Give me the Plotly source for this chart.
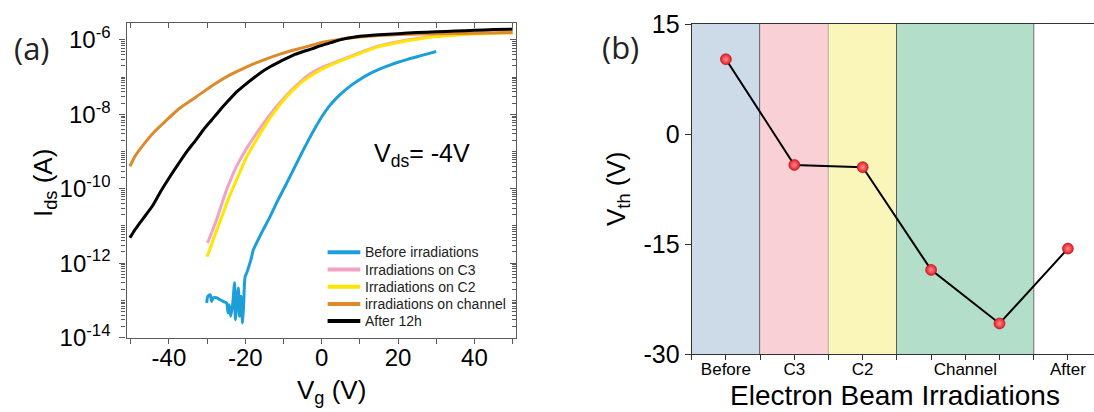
import numpy as np
import plotly.graph_objects as go

W, H = 1094, 412
FONT = "Liberation Sans, Arial, sans-serif"
LABEL_FONT = "Open Sans, Noto Sans, sans-serif"

# ---------------- Panel (a): transfer curves, Vds = -4 V ----------------
# Gate voltage (V) and log10 of drain current (A) for each measurement
vg_before = [-30.1, -29.8, -29.2, -28.8, -28.4, -27.5, -26.7, -25.8, -24.9, -24.5,
             -24.2, -23.8, -23.3, -22.8, -22.6, -22.2, -21.8, -21.5, -21.1, -20.7,
             -20.4, -20.2, -20.0, -19.6, -19.1, -18.5, -17.9, -17.0, -15.3, -13.5,
             -11.8, -9.5, -7.4, -5.5, -4.0, -2.0, 0.0, 2.0, 4.0, 6.0,
             8.0, 10.0, 12.5, 15.0, 17.5, 20.0, 22.5, 25.0, 27.5, 30.0]
log_ids_before = [-13.07, -12.89, -12.85, -13.03, -12.93, -12.93, -12.98, -13.03, -13.07, -13.34,
                  -13.12, -13.43, -13.10, -12.53, -13.52, -13.07, -12.67, -13.43, -12.89, -13.61,
                  -13.07, -12.53, -12.35, -12.26, -12.10, -11.90, -11.65, -11.45, -11.10, -10.75,
                  -10.38, -9.92, -9.49, -9.10, -8.80, -8.42, -8.07, -7.78, -7.55, -7.36,
                  -7.20, -7.06, -6.91, -6.79, -6.69, -6.60, -6.52, -6.45, -6.38, -6.31]

vg_c3 = [-29.9, -28.7, -27.5, -26.2, -24.9, -23.6, -22.3, -20.1, -17.9, -15.7,
         -13.5, -11.3, -9.1, -7.0, -4.8, -2.6, 0.0, 2.5, 5.0, 10.0, 15.0,
         20.0, 25.0, 30.0, 35.0, 40.0, 45.0, 50.0]
log_ids_c3 = [-11.46, -11.15, -10.83, -10.42, -10.03, -9.70, -9.40, -8.99, -8.64, -8.31,
              -8.01, -7.73, -7.48, -7.26, -7.05, -6.88, -6.74, -6.64, -6.54, -6.34, -6.16,
              -6.05, -5.96, -5.89, -5.85, -5.82, -5.81, -5.80]

vg_c2 = [-30.0, -29.0, -27.5, -26.0, -24.5, -23.0, -21.5, -20.0, -18.0, -15.7,
         -13.5, -11.3, -9.1, -7.0, -5.0, -2.5, 0.0, 2.5, 5.0, 7.5, 10.0, 15.0,
         20.0, 25.0, 30.0, 35.0, 40.0, 45.0, 50.0]
log_ids_c2 = [-11.83, -11.55, -11.12, -10.72, -10.30, -9.93, -9.58, -9.22, -8.85, -8.45,
              -8.10, -7.79, -7.52, -7.30, -7.12, -6.94, -6.79, -6.67, -6.56, -6.46, -6.36, -6.18,
              -6.07, -5.98, -5.91, -5.87, -5.84, -5.82, -5.81]

vg_channel = [-50.2, -48.9, -46.7, -44.1, -41.5, -37.1, -32.7, -28.4, -24.0, -19.6,
              -15.3, -10.9, -6.5, -2.1, 0.0, 5.0, 10.0, 15.0, 20.0, 30.0,
              40.0, 50.0]
log_ids_channel = [-9.40, -9.13, -8.82, -8.50, -8.24, -7.83, -7.52, -7.21, -6.94, -6.72,
                   -6.54, -6.38, -6.25, -6.13, -6.07, -5.98, -5.92, -5.88, -5.85, -5.83,
                   -5.82, -5.80]

vg_after = [-50.2, -49.0, -47.6, -46.0, -44.1, -42.0, -39.7, -37.5, -35.3, -33.0,
            -31.0, -28.8, -26.6, -24.4, -22.2, -20.0, -17.9, -15.7, -13.5, -11.3,
            -9.1, -7.0, -4.8, -2.6, -0.4, 2.5, 5.0, 7.5, 10.0, 15.0,
            20.0, 25.0, 30.0, 35.0, 40.0, 45.0, 50.0]
log_ids_after = [-11.32, -11.12, -10.92, -10.70, -10.43, -10.05, -9.67, -9.33, -9.00, -8.70,
                 -8.42, -8.15, -7.88, -7.63, -7.39, -7.20, -7.03, -6.86, -6.72, -6.60,
                 -6.49, -6.39, -6.31, -6.24, -6.16, -6.07, -5.99, -5.94, -5.90, -5.86,
                 -5.83, -5.80, -5.78, -5.76, -5.74, -5.72, -5.71]

curve_names = ["Before irradiations", "Irradiations on C3", "Irradiations on C2",
               "irradiations on channel", "After 12h"]
curve_colors = ["#1c9fd9", "#f3a2c3", "#ffe500", "#dd8a2b", "#000000"]

# ---------------- Panel (b): threshold voltage per stage ----------------
stage_names = ["Before", "C3", "C2", "Channel", "After"]
stage_counts = [1, 1, 1, 2, 1]          # number of measurements in each stage
vth = [10.2, -4.2, -4.5, -18.5, -25.8, -15.6]
stage_fill = ["#cddbe9", "#f8d0d6", "#faf6b9", "#b3dec9", None]
stage_edge = ["#1a1a1a", "#8a8a8a", "#1a1a1a", "#8a8a8a", None]

# Axis tick labels
vg_ticks = [-40, -20, 0, 20, 40]
labelled_decades = [-14, -12, -10, -8, -6]
vth_ticks = [-30, -15, 0, 15]

# ---------------- geometry ----------------
ax_a = dict(x0=126.5, x1=516.0, y0=22.5, y1=337.5)
ax_b = dict(x0=691.7, x1=W, y0=24.0, y1=354.3)
xr_a = [-51.1, 50.9]
yr_a = [-14.0, -5.53]
xr_b = [0.5, 0.5 + (ax_b["x1"] - ax_b["x0"]) / 68.4]
yr_b = [-30, 15]


def dom_x(a):
    return [a["x0"] / W, a["x1"] / W]


def dom_y(a):
    return [1 - a["y1"] / H, 1 - a["y0"] / H]


def px(x):
    return x / W


def py(y):
    return 1 - y / H


fig = go.Figure()

all_vg = [vg_before, vg_c3, vg_c2, vg_channel, vg_after]
all_log = [log_ids_before, log_ids_c3, log_ids_c2, log_ids_channel, log_ids_after]
for name, vg, lg, col in zip(curve_names, all_vg, all_log, curve_colors):
    fig.add_trace(go.Scatter(
        x=vg, y=np.power(10.0, lg), mode="lines", name=name, showlegend=False,
        line=dict(color=col, width=3, shape="spline", smoothing=0.6),
        xaxis="x", yaxis="y", hoverinfo="x+y+name"))

# transparent copy bound to the inside-tick frame axes (top / right)
fig.add_trace(go.Scatter(
    x=vg_after, y=np.power(10.0, log_ids_after), mode="lines",
    line=dict(color="rgba(0,0,0,0)", width=0), opacity=0,
    showlegend=False, hoverinfo="skip", xaxis="x3", yaxis="y3"))

# Panel (b) positions: one slot per measurement, grouped by stage
positions = list(range(1, len(vth) + 1))
fig.add_trace(go.Scatter(
    x=positions, y=vth, mode="lines+markers", showlegend=False,
    line=dict(color="black", width=2),
    marker=dict(size=11, color="#e31b23",
                gradient=dict(type="radial", color="#ff8c8c"),
                line=dict(width=0.6, color="#b01015")),
    xaxis="x2", yaxis="y2"))

# stage bands and boundaries
shapes = []
edges = np.concatenate([[0.5], 0.5 + np.cumsum(stage_counts)])
label_pos = []
for i, name in enumerate(stage_names):
    lo, hi = edges[i], edges[i + 1]
    label_pos.append((lo + hi) / 2)
    if stage_fill[i]:
        shapes.append(dict(type="rect", xref="x2", yref="y2 domain",
                           x0=lo, x1=hi, y0=0, y1=1, fillcolor=stage_fill[i],
                           line=dict(width=0), layer="below"))
    if stage_edge[i]:
        shapes.append(dict(type="line", xref="x2", yref="y2 domain",
                           x0=hi, x1=hi, y0=0, y1=1,
                           line=dict(color=stage_edge[i], width=1.3), layer="below"))

# legend of panel (a): sample line + label per curve
annotations = []
leg_x0, leg_x1, leg_tx, leg_y0, leg_dy = 327.6, 360.3, 363.0, 252.3, 17.2
for i, (name, col) in enumerate(zip(curve_names, curve_colors)):
    yy = py(leg_y0 + i * leg_dy)
    shapes.append(dict(type="line", xref="paper", yref="paper",
                       x0=px(leg_x0), x1=px(leg_x1), y0=yy, y1=yy,
                       line=dict(color=col, width=4)))
    annotations.append(dict(text=name, x=px(leg_tx), y=yy, xref="paper", yref="paper",
                            xanchor="left", yanchor="middle", showarrow=False,
                            font=dict(family=FONT, size=14, color="#222")))

tickfont_a = dict(family=FONT, size=24, color="black")
line_col = "#5a5a5a"

# log-axis ticks: labelled even decades, odd decades and 2..9 as minor
lab_vals = [10.0 ** d for d in labelled_decades]
lab_text = ["10<sup>%d</sup>" % d for d in labelled_decades]
minor_vals = []
for d in range(-14, -5):
    if d % 2:
        minor_vals.append(10.0 ** d)
    if d < -6:
        minor_vals += [m * 10.0 ** d for m in range(2, 10)]

fig.update_layout(
    width=W, height=H,
    margin=dict(l=0, r=0, t=0, b=0, autoexpand=False),
    paper_bgcolor="white", plot_bgcolor="rgba(0,0,0,0)",
    font=dict(family=FONT, color="black"),
    showlegend=False,
    xaxis=dict(domain=dom_x(ax_a), range=xr_a, anchor="y", automargin=False,
               tickmode="array", tickvals=vg_ticks, ticktext=[str(v) for v in vg_ticks],
               ticks="outside", ticklen=5, ticklabelstandoff=-6,
               tickcolor=line_col, tickwidth=1.2,
               minor=dict(ticks="outside", ticklen=5, dtick=10, tick0=0,
                          tickcolor=line_col, tickwidth=1.2),
               showline=True, linecolor=line_col, linewidth=1.3, mirror=True,
               showgrid=False, zeroline=False, tickfont=tickfont_a),
    yaxis=dict(domain=dom_y(ax_a), type="log", range=yr_a, anchor="x", automargin=False,
               tickmode="array", tickvals=lab_vals, ticktext=lab_text,
               ticks="outside", ticklen=6, ticklabelstandoff=4,
               tickcolor=line_col, tickwidth=1.2,
               minor=dict(tickmode="array", tickvals=minor_vals, ticks="outside",
                          ticklen=4, tickcolor=line_col, tickwidth=1),
               showline=True, linecolor=line_col, linewidth=1.3, mirror=True,
               showgrid=False, zeroline=False, tickfont=tickfont_a),
    xaxis3=dict(overlaying="x", side="top", anchor="y", range=xr_a, automargin=False,
                tickmode="linear", tick0=0, dtick=10, ticks="inside", ticklen=5,
                tickcolor=line_col, tickwidth=1.2, showticklabels=False,
                showline=False, showgrid=False, zeroline=False),
    yaxis3=dict(overlaying="y", side="right", anchor="x", type="log", range=yr_a,
                automargin=False,
                tickmode="array", tickvals=lab_vals, ticks="inside", ticklen=6,
                tickcolor=line_col, tickwidth=1.2, showticklabels=False,
                minor=dict(tickmode="array", tickvals=minor_vals, ticks="inside",
                           ticklen=4, tickcolor=line_col, tickwidth=1),
                showline=False, showgrid=False, zeroline=False),
    xaxis2=dict(domain=dom_x(ax_b), range=xr_b, anchor="y2", automargin=False,
                tickmode="array", tickvals=label_pos, ticktext=stage_names,
                ticks="outside", ticklen=5, ticklabelstandoff=-6,
                tickcolor="#333", tickwidth=1.2,
                minor=dict(ticks="outside", ticklen=5, dtick=0.5, tick0=0.5,
                           tickcolor="#333", tickwidth=1.2),
                showline=True, linecolor="#333", linewidth=1.3, mirror=True,
                showgrid=False, zeroline=False,
                tickfont=dict(family=FONT, size=17, color="black")),
    yaxis2=dict(domain=dom_y(ax_b), range=yr_b, anchor="x2", automargin=False,
                tickmode="array", tickvals=vth_ticks, ticktext=[str(v) for v in vth_ticks],
                ticks="outside", ticklen=6, tickcolor="#333", tickwidth=1.2,
                showline=True, linecolor="#333", linewidth=1.3,
                showgrid=False, zeroline=False,
                tickfont=dict(family=FONT, size=25, color="black")),
    shapes=shapes,
)

centered = dict(xref="paper", yref="paper", xanchor="center", yanchor="middle",
                showarrow=False)
annotations += [
    dict(text="(a)", x=px(32), y=py(47.5), **centered,
         font=dict(family=LABEL_FONT, size=31, color="#222")),
    dict(text="(b)", x=px(620.5), y=py(46.5), **centered,
         font=dict(family=LABEL_FONT, size=31, color="#222")),
    dict(text="V<sub>ds</sub>= -4V", x=26.4, y=-9.09, xref="x", yref="y",
         xanchor="center", yanchor="middle", showarrow=False,
         font=dict(family=FONT, size=25, color="black")),
    dict(text="I<sub>ds</sub> (A)", x=px(44), y=py(183), textangle=-90, **centered,
         font=dict(family=FONT, size=26, color="black")),
    dict(text="V<sub>g</sub> (V)", x=px(331), y=py(391), **centered,
         font=dict(family=FONT, size=26, color="black")),
    dict(text="V<sub>th</sub> (V)", x=px(617.5), y=py(189.5), textangle=-90, **centered,
         font=dict(family=FONT, size=26, color="black")),
    dict(text="Electron Beam Irradiations", x=px(895), y=py(395.5), **centered,
         font=dict(family=FONT, size=28, color="black")),
]
fig.update_layout(annotations=annotations)

fig.write_html("out.html")
